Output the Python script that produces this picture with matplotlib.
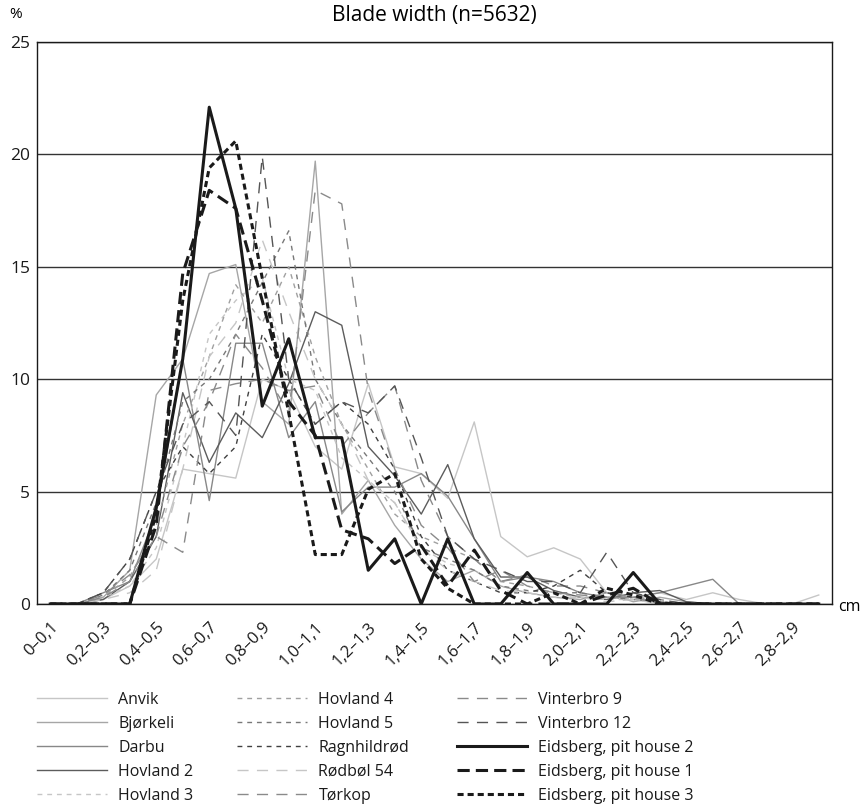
import numpy as np
import matplotlib.pyplot as plt
from matplotlib.lines import Line2D

plt.rcParams['font.family'] = ['Open Sans', 'DejaVu Sans']

#categories (cm)
categories = []
for i in range(30):
    a = "0" if i == 0 else "{:.1f}".format(i / 10).replace(".", ",")
    b = "{:.1f}".format((i + 1) / 10).replace(".", ",")
    categories.append(a + "\u2013" + b)

#percentages per site
anvik       = [0, 0, 0.2, 0.8, 2.0, 6.0, 5.8, 5.6, 10.0, 9.5, 7.0, 6.0, 9.8, 6.1, 5.8, 4.7, 8.1, 3.0, 2.1, 2.5, 2.0, 0.5, 0.3, 0.5, 0.2, 0.5, 0.2, 0, 0, 0.4]
bjorkeli    = [0, 0, 0.3, 1.5, 9.3, 10.9, 14.7, 15.1, 9.0, 8.0, 19.7, 4.0, 5.5, 3.5, 2.0, 1.0, 1.5, 0.8, 0.5, 0.3, 0.2, 0.5, 0.1, 0.3, 0.1, 0, 0, 0, 0, 0]
darbu       = [0, 0, 0.5, 1.0, 4.0, 10.9, 4.6, 11.6, 11.6, 7.4, 9.0, 4.1, 5.2, 5.2, 5.8, 4.8, 2.9, 1.0, 1.2, 1.0, 0.5, 0.3, 0.3, 0.5, 0.8, 1.1, 0, 0, 0, 0]
hovland2    = [0, 0, 0.2, 1.0, 3.0, 9.4, 6.3, 8.5, 7.4, 9.8, 13.0, 12.4, 7.0, 5.7, 4.0, 6.2, 2.9, 1.2, 1.2, 0.6, 0.3, 0.2, 0.5, 0.6, 0.1, 0, 0, 0, 0, 0]
hovland3    = [0, 0, 0.3, 0.8, 2.5, 7.0, 12.0, 13.5, 14.5, 10.0, 9.5, 6.5, 5.5, 4.5, 2.5, 1.8, 1.5, 0.8, 0.5, 0.3, 0.3, 0.2, 0.2, 0, 0, 0, 0, 0, 0, 0]
hovland4    = [0, 0, 0.3, 1.2, 3.5, 8.0, 11.0, 14.2, 12.5, 15.0, 11.0, 8.0, 6.0, 4.0, 3.0, 2.5, 2.0, 1.0, 0.8, 0.5, 0.3, 0.3, 0.2, 0.1, 0, 0, 0, 0, 0, 0]
hovland5    = [0, 0, 0.4, 1.5, 4.5, 9.0, 10.0, 12.0, 14.3, 16.6, 10.0, 8.0, 6.5, 5.0, 2.5, 2.0, 1.5, 0.8, 0.6, 0.5, 0.5, 0.3, 0.2, 0.1, 0, 0, 0, 0, 0, 0]
ragnhildrod = [0, 0, 0.5, 2.0, 5.0, 7.0, 5.8, 7.0, 12.0, 10.0, 8.0, 9.0, 8.0, 6.0, 3.0, 1.5, 1.0, 0.5, 0.5, 0.8, 1.5, 0.5, 0.3, 0.1, 0, 0, 0, 0, 0, 0]
rodbol54    = [0, 0, 0.2, 0.5, 1.5, 6.0, 11.0, 12.5, 16.2, 13.0, 10.0, 8.0, 5.5, 4.5, 2.5, 1.5, 1.0, 0.6, 0.5, 0.3, 0.3, 0.1, 0.2, 0, 0, 0, 0, 0, 0, 0]
torkop      = [0, 0, 0.4, 1.3, 3.0, 2.3, 9.5, 9.8, 10.0, 9.5, 9.7, 7.0, 8.5, 9.7, 5.5, 3.0, 2.0, 1.0, 1.3, 0.8, 0.8, 0.5, 0.3, 0.2, 0, 0, 0, 0, 0, 0]
vinterbro9  = [0, 0, 0.3, 1.0, 3.0, 7.0, 9.0, 12.0, 10.5, 8.5, 18.4, 17.8, 9.5, 6.0, 3.5, 2.5, 1.0, 1.5, 0.8, 0.5, 0.4, 0.3, 0.3, 0, 0, 0, 0, 0, 0, 0]
vinterbro12 = [0, 0, 0.5, 2.0, 5.0, 8.0, 9.0, 7.5, 19.9, 10.0, 8.0, 9.0, 8.5, 9.7, 6.5, 3.0, 2.0, 1.5, 1.0, 1.0, 0.5, 2.3, 0.5, 0.2, 0, 0, 0, 0, 0, 0]
eidsberg2   = [0, 0, 0, 0, 4.3, 10.9, 22.1, 17.6, 8.8, 11.8, 7.4, 7.4, 1.5, 2.9, 0, 2.9, 0, 0, 1.4, 0, 0, 0, 1.4, 0, 0, 0, 0, 0, 0, 0]
eidsberg1   = [0, 0, 0, 0, 3.5, 14.7, 18.4, 17.6, 13.5, 9.0, 7.5, 3.3, 2.9, 1.8, 2.6, 0.8, 2.4, 0.6, 0, 0, 0, 0.4, 0.7, 0, 0, 0, 0, 0, 0, 0]
eidsberg3   = [0, 0, 0, 0, 4.0, 13.5, 19.4, 20.6, 14.5, 8.5, 2.2, 2.2, 5.1, 5.8, 2.0, 0.7, 0, 0, 0, 0.5, 0, 0.7, 0.4, 0, 0, 0, 0, 0, 0, 0]

short = (3.5, 3.5)
long_ = (8, 6)
series = [
    ("Anvik", anvik, '#c6c6c6', 1.0, None),
    ("Bjørkeli", bjorkeli, '#a6a6a6', 1.0, None),
    ("Darbu", darbu, '#888888', 1.0, None),
    ("Hovland 2", hovland2, '#5c5c5c', 1.0, None),
    ("Hovland 3", hovland3, '#c6c6c6', 1.0, short),
    ("Hovland 4", hovland4, '#a0a0a0', 1.0, short),
    ("Hovland 5", hovland5, '#787878', 1.0, short),
    ("Ragnhildrød", ragnhildrod, '#404040', 1.0, short),
    ("Rødbøl 54", rodbol54, '#c6c6c6', 1.0, long_),
    ("Tørkop", torkop, '#8a8a8a', 1.0, long_),
    ("Vinterbro 9", vinterbro9, '#8a8a8a', 1.0, long_),
    ("Vinterbro 12", vinterbro12, '#555555', 1.0, long_),
    ("Eidsberg, pit house 2", eidsberg2, '#1a1a1a', 2.2, None),
    ("Eidsberg, pit house 1", eidsberg1, '#1a1a1a', 2.2, (4, 2)),
    ("Eidsberg, pit house 3", eidsberg3, '#1a1a1a', 2.2, (2, 1.3)),
]

fig = plt.figure(figsize=(8.62, 8.05), dpi=100)
ax = fig.add_axes([37 / 862, 1 - 604 / 805, 795 / 862, 562 / 805])

x = np.arange(len(categories))
handles = []
for name, vals, col, lw, dash in series:
    line, = ax.plot(x, vals, color=col, lw=lw, label=name)
    if dash is not None:
        line.set_dashes(dash)
    handles.append(line)

ax.set_xlim(-0.5, len(categories) - 0.5)
ax.set_ylim(0, 25)
ax.set_yticks([0, 5, 10, 15, 20, 25])
ax.yaxis.grid(True, color='#333333', lw=1)
ax.set_axisbelow(True)
ax.set_xticks(x[::2])
ax.set_xticklabels(categories[::2], rotation=45, ha='right', va='top',
                   rotation_mode='anchor', fontsize=12)
ax.tick_params(axis='both', length=0, colors='#1a1a1a')
ax.tick_params(axis='y', labelsize=12.5, pad=5)
ax.tick_params(axis='x', pad=11)
for s in ax.spines.values():
    s.set_color('#1a1a1a')
    s.set_linewidth(1)

fig.text(434 / 862, 1 - 16 / 805, "Blade width (n=5632)", ha='center', va='center', fontsize=15)
fig.text(16 / 862, 1 - 15 / 805, "%", ha='center', va='center', fontsize=11)
fig.text(849 / 862, 1 - 607 / 805, "cm", ha='center', va='center', fontsize=11.5)

#legend, three columns placed by hand
col_x = [37, 237, 457]
for c in range(3):
    leg = fig.legend(handles=handles[c * 5:(c + 1) * 5], loc='upper left',
                     bbox_to_anchor=(col_x[c] / 862, 1 - 692 / 805),
                     frameon=False, fontsize=11.5, handlelength=4.4,
                     handletextpad=0.7, labelspacing=0.5, borderpad=0,
                     borderaxespad=0)
    for t in leg.get_texts():
        t.set_color('#1a1a1a')

fig.savefig('out.png', dpi=100)
